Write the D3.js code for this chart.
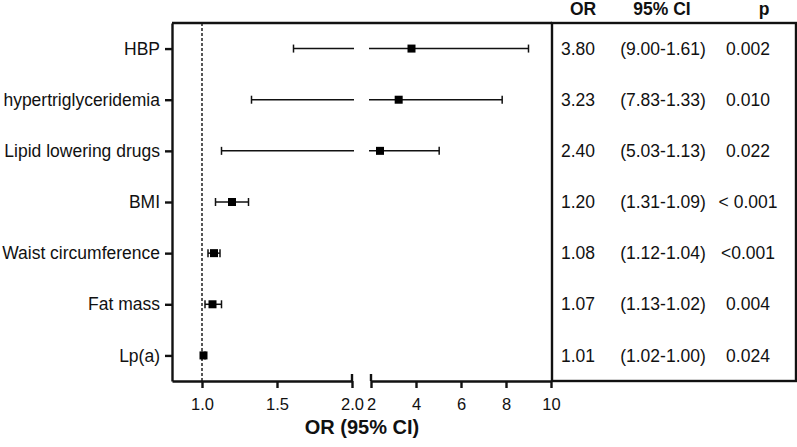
<!DOCTYPE html>
<html>
<head>
<meta charset="utf-8">
<script src="https://cdn.jsdelivr.net/npm/d3@7"></script>
<style>
  body { margin: 0; background: #fff; }
  svg text { font-family: "Liberation Sans", Arial, sans-serif; fill: #111; }
</style>
</head>
<body>
<svg id="chart" width="797" height="447"></svg>
<script>
// data
const labels = ["HBP", "hypertriglyceridemia", "Lipid lowering drugs", "BMI",
                "Waist circumference", "Fat mass", "Lp(a)"];
const orValues = [3.80, 3.23, 2.40, 1.20, 1.08, 1.07, 1.01];
const ciLow = [1.61, 1.33, 1.13, 1.09, 1.04, 1.02, 1.00];
const ciHigh = [9.00, 7.83, 5.03, 1.31, 1.12, 1.13, 1.02];
const pValues = ["0.002", "0.010", "0.022", "< 0.001", "<0.001", "0.004", "0.024"];
const lowTicks = [1.0, 1.5, 2.0];
const highTicks = [2, 4, 6, 8, 10];
const headers = ["OR", "95% CI", "p"];

const rows = labels.map((d, i) => ({
    label: d, or: orValues[i], lo: ciLow[i], hi: ciHigh[i], p: pValues[i]
}));

const plotTop = 23, plotBottom = 381, plotLeft = 172, plotRight = 552, tableRight = 796;
const breakAt = 2;

// broken x axis: two linear pieces
let xLow = d3.scaleLinear().domain([0.8, 2]).range([plotLeft, 352]);
let xHigh = d3.scaleLinear().domain([2, 10]).range([371, 551]);
let y = d3.scalePoint().domain(labels).range([plotTop, plotBottom]).padding(0.5);

function xPos(v) {
    return v <= breakAt ? xLow(v) : xHigh(v);
}

let svg = d3.select("#chart");

// frame
svg.append("line")
    .attr("x1", plotLeft).attr("x2", plotRight)
    .attr("y1", plotTop).attr("y2", plotTop)
    .attr("stroke", "#111").attr("stroke-width", 2.4);
svg.append("rect")
    .attr("x", plotRight).attr("y", plotTop)
    .attr("width", tableRight - plotRight).attr("height", plotBottom - plotTop)
    .attr("fill", "none").attr("stroke", "#111").attr("stroke-width", 2.4);

// reference line at OR = 1
svg.append("line")
    .attr("x1", xLow(1)).attr("x2", xLow(1))
    .attr("y1", plotTop).attr("y2", plotBottom)
    .attr("stroke", "#111").attr("stroke-width", 1.4)
    .attr("stroke-dasharray", "3,2");

// axes
function styleAxis(g) {
    g.selectAll("path, line").attr("stroke", "#111").attr("stroke-width", 2.4);
    g.selectAll("text").attr("fill", "#111");
}

svg.append("g")
    .attr("transform", `translate(${plotLeft},0)`)
    .call(d3.axisLeft(y).tickSizeOuter(0).tickSizeInner(7).tickPadding(5))
    .call(styleAxis)
    .selectAll("text")
    .style("font-size", "17.5px");

svg.append("g")
    .attr("transform", `translate(0,${plotBottom})`)
    .call(d3.axisBottom(xLow).tickValues(lowTicks).tickFormat(d3.format(".1f"))
        .tickSizeOuter(0).tickSizeInner(7).tickPadding(10))
    .call(styleAxis)
    .selectAll("text")
    .style("font-size", "16.5px");

svg.append("g")
    .attr("transform", `translate(0,${plotBottom})`)
    .call(d3.axisBottom(xHigh).tickValues(highTicks).tickFormat(d3.format("d"))
        .tickSizeOuter(0).tickSizeInner(7).tickPadding(10))
    .call(styleAxis)
    .selectAll("text")
    .style("font-size", "16.5px");

// break marks above the axis
[xLow(breakAt), xHigh(breakAt)].forEach(x => {
    svg.append("line")
        .attr("x1", x).attr("x2", x)
        .attr("y1", plotBottom - 7).attr("y2", plotBottom)
        .attr("stroke", "#111").attr("stroke-width", 2.4);
});

svg.append("text")
    .attr("x", (plotLeft + plotRight) / 2)
    .attr("y", 434)
    .attr("text-anchor", "middle")
    .style("font-size", "20px")
    .style("font-weight", "bold")
    .text("OR (95% CI)");

// error bars, split where they cross the break
let bars = svg.append("g");
rows.forEach(d => {
    let yy = y(d.label);
    let pieces = d.lo < breakAt && d.hi > breakAt
        ? [[xLow(d.lo), xLow(breakAt) + 2], [xHigh(breakAt) - 2, xHigh(d.hi)]]
        : [[xPos(d.lo), xPos(d.hi)]];
    pieces.forEach(p => {
        bars.append("line")
            .attr("x1", p[0]).attr("x2", p[1])
            .attr("y1", yy).attr("y2", yy)
            .attr("stroke", "#111").attr("stroke-width", 1.5);
    });
    [xPos(d.lo), xPos(d.hi)].forEach(x => {
        bars.append("line")
            .attr("x1", x).attr("x2", x)
            .attr("y1", yy - 4).attr("y2", yy + 4)
            .attr("stroke", "#111").attr("stroke-width", 1.5);
    });
});

bars.selectAll(".marker")
    .data(rows)
    .enter()
    .append("rect")
    .attr("class", "marker")
    .attr("x", d => xPos(d.or) - 4)
    .attr("y", d => y(d.label) - 4)
    .attr("width", 8)
    .attr("height", 8)
    .attr("fill", "#000");

// table
const colX = [578, 663, 748];
const headX = [583, 662, 764];

svg.selectAll(".head")
    .data(headers)
    .enter()
    .append("text")
    .attr("class", "head")
    .attr("x", (d, i) => headX[i])
    .attr("y", 15)
    .attr("text-anchor", "middle")
    .style("font-size", "17.5px")
    .style("font-weight", "bold")
    .text(d => d);

let cells = svg.selectAll(".row")
    .data(rows)
    .enter()
    .append("g")
    .attr("class", "row")
    .attr("transform", d => `translate(0,${y(d.label)})`);

cells.append("text")
    .attr("x", colX[0]).attr("dy", "0.35em")
    .attr("text-anchor", "middle")
    .style("font-size", "17.5px")
    .text(d => d.or.toFixed(2));

cells.append("text")
    .attr("x", colX[1]).attr("dy", "0.35em")
    .attr("text-anchor", "middle")
    .style("font-size", "17.5px")
    .text(d => `(${d.hi.toFixed(2)}-${d.lo.toFixed(2)})`);

cells.append("text")
    .attr("x", colX[2]).attr("dy", "0.35em")
    .attr("text-anchor", "middle")
    .style("font-size", "17.5px")
    .text(d => d.p);
</script>
</body>
</html>
